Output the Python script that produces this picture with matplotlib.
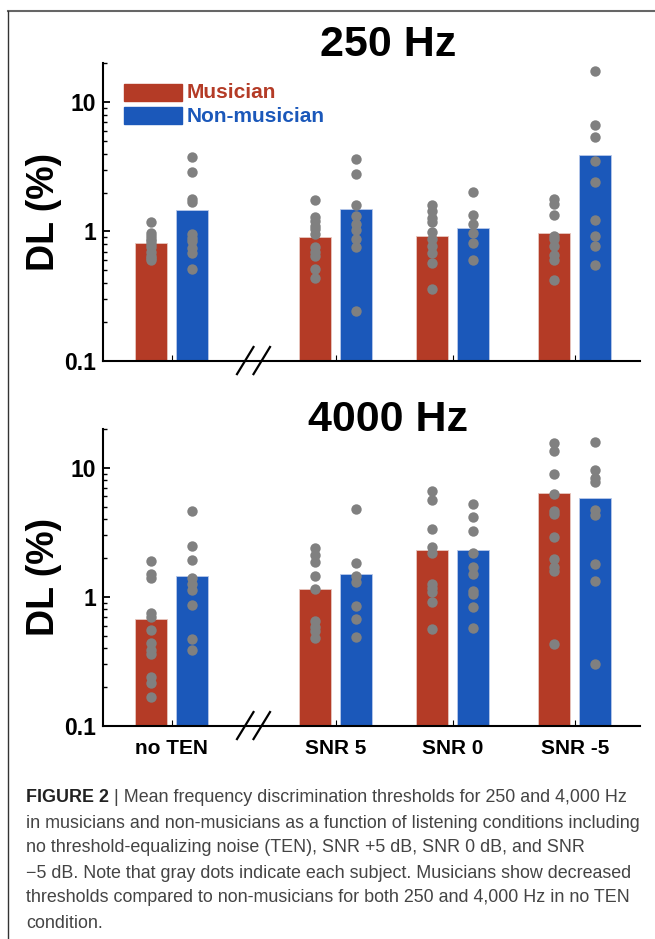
import matplotlib
matplotlib.use('Agg')
import matplotlib.pyplot as plt
import matplotlib.transforms as mtransforms
from matplotlib.patches import Rectangle
from matplotlib.lines import Line2D
from matplotlib.ticker import NullFormatter
import numpy as np

plt.rcParams['font.family'] = ['Liberation Sans', 'DejaVu Sans']

conditions = ['no TEN', 'SNR 5', 'SNR 0', 'SNR -5']
groups = ['Musician', 'Non-musician']

# mean DL (%)
mean_250_mus = [0.81, 0.91, 0.92, 0.965]
mean_250_non = [1.46, 1.48, 1.07, 3.93]
mean_4000_mus = [0.68, 1.15, 2.31, 6.39]
mean_4000_non = [1.46, 1.51, 2.33, 5.84]

# single subjects (gray dots)
subj_250_mus = [
    [1.19, 0.98, 0.93, 0.88, 0.84, 0.80, 0.76, 0.70, 0.65, 0.62, 0.60],
    [1.76, 1.30, 1.20, 1.11, 1.04, 0.95, 0.76, 0.70, 0.65, 0.51, 0.44],
    [1.60, 1.44, 1.28, 1.18, 0.99, 0.87, 0.77, 0.68, 0.57, 0.36],
    [1.79, 1.62, 1.35, 0.92, 0.87, 0.77, 0.66, 0.60, 0.42],
]
subj_250_non = [
    [3.75, 2.89, 1.77, 1.68, 0.95, 0.89, 0.84, 0.74, 0.68, 0.51],
    [3.64, 2.79, 1.59, 1.31, 1.15, 1.02, 0.87, 0.76, 0.245],
    [2.02, 1.35, 1.15, 0.98, 0.82, 0.60],
    [17.5, 6.7, 5.4, 3.5, 2.4, 1.22, 0.92, 0.77, 0.55],
]
subj_4000_mus = [
    [1.90, 1.51, 1.39, 0.75, 0.70, 0.55, 0.44, 0.39, 0.36, 0.24, 0.215, 0.167],
    [2.40, 2.11, 1.87, 1.44, 1.15, 0.65, 0.59, 0.54, 0.48],
    [6.67, 5.61, 3.35, 2.45, 2.20, 1.27, 1.17, 1.10, 0.92, 0.56],
    [15.5, 13.5, 9.0, 6.24, 4.64, 4.37, 2.92, 1.95, 1.71, 1.60, 0.43],
]
subj_4000_non = [
    [4.61, 2.48, 1.93, 1.41, 1.27, 1.13, 0.87, 0.47, 0.39],
    [4.84, 1.84, 1.44, 1.31, 0.85, 0.68, 0.49],
    [5.29, 4.17, 3.25, 2.20, 1.71, 1.51, 1.11, 1.05, 0.84, 0.57],
    [16.0, 9.69, 8.40, 7.77, 4.70, 4.30, 1.80, 1.34, 0.30],
]

caption_lines = [
    'in musicians and non-musicians as a function of listening conditions including',
    'no threshold-equalizing noise (TEN), SNR +5 dB, SNR 0 dB, and SNR',
    '\u22125 dB. Note that gray dots indicate each subject. Musicians show decreased',
    'thresholds compared to non-musicians for both 250 and 4,000 Hz in no TEN',
    'condition.',
]

RED = '#b43b26'
BLUE = '#1b58ba'
GRAY = '#808080'
W, H = 655, 939

xpos = np.array([0, 1.37, 2.35, 3.37])
off = 0.171
bw = 0.268


def draw_panel(ax, mus_mean, non_mean, mus_subj, non_subj):
    ax.set_yscale('log')
    ax.bar(xpos - off, mus_mean, width=bw, color=RED, edgecolor='#e8c8c0', linewidth=0.6, zorder=2)
    ax.bar(xpos + off, non_mean, width=bw, color=BLUE, edgecolor='#b8c8ea', linewidth=0.6, zorder=2)
    for i in range(len(xpos)):
        ax.scatter(np.full(len(mus_subj[i]), xpos[i] - off), mus_subj[i], s=56, color=GRAY, linewidths=0, zorder=3)
        ax.scatter(np.full(len(non_subj[i]), xpos[i] + off), non_subj[i], s=56, color=GRAY, linewidths=0, zorder=3)
    ax.set_ylim(0.1, 20)
    ax.set_xlim(-0.577, 3.916)
    ax.set_yticks([0.1, 1, 10])
    ax.set_yticklabels(['0.1', '1', '10'], fontsize=16.5, fontweight='bold')
    ax.yaxis.set_minor_formatter(NullFormatter())
    ax.set_xticks(xpos)
    for s in ['top', 'right']:
        ax.spines[s].set_visible(False)
    for s in ['left', 'bottom']:
        ax.spines[s].set_linewidth(1.5)
    ax.tick_params(axis='y', which='major', direction='in', length=5, width=1.3, pad=5)
    ax.tick_params(axis='y', which='minor', direction='in', length=3, width=1.0)
    ax.tick_params(axis='x', direction='in', length=4, width=0.8, pad=9)
    # axis break
    tr = mtransforms.blended_transform_factory(ax.transData, ax.transAxes)
    for x0 in [0.546, 0.684]:
        ax.add_line(Line2D([x0, x0 + 0.138], [-0.044, 0.047], transform=tr,
                           color='black', lw=1.6, clip_on=False, zorder=5))


fig = plt.figure(figsize=(W / 100, H / 100), dpi=100)
ax1 = fig.add_axes([102.7 / W, 1 - 361 / H, (640 - 102.7) / W, 298 / H])
ax2 = fig.add_axes([102.7 / W, 1 - 726 / H, (640 - 102.7) / W, 297 / H])

draw_panel(ax1, mean_250_mus, mean_250_non, subj_250_mus, subj_250_non)
draw_panel(ax2, mean_4000_mus, mean_4000_non, subj_4000_mus, subj_4000_non)
ax1.set_xticklabels([])
ax2.set_xticklabels(conditions, fontsize=15, fontweight='bold')

fig.text(388 / W, 1 - 45 / H, '250 Hz', ha='center', va='center', fontsize=31, fontweight='bold')
fig.text(388 / W, 1 - 420 / H, '4000 Hz', ha='center', va='center', fontsize=31, fontweight='bold')
for yc in [212, 577]:
    fig.text(44 / W, 1 - yc / H, 'DL (%)', rotation=90, ha='center', va='center',
             fontsize=27, fontweight='bold')

# legend
for (y0, col, lab) in [(84, RED, groups[0]), (107, BLUE, groups[1])]:
    fig.add_artist(Rectangle((124 / W, 1 - (y0 + 17) / H), 58 / W, 17 / H,
                             transform=fig.transFigure, color=col))
    fig.text(187 / W, 1 - (y0 + 9) / H, lab, color=col, ha='left', va='center',
             fontsize=15, fontweight='bold')

# frame
fig.add_artist(Line2D([8 / W, 1], [1 - 11 / H, 1 - 11 / H], transform=fig.transFigure, color='#666666', lw=1.5))
fig.add_artist(Line2D([8 / W, 8 / W], [0, 1 - 11 / H], transform=fig.transFigure, color='#333333', lw=1.0))

# caption
cap_fs = 12.9
cap_col = '#444444'
t = fig.text(26 / W, 1 - 798 / H, 'FIGURE 2', ha='left', va='center', fontsize=cap_fs,
             fontweight='bold', color='#222222')
r = fig.canvas.get_renderer()
bb = t.get_window_extent(renderer=r)
fig.text(bb.x1 / W, 1 - 798 / H, ' | Mean frequency discrimination thresholds for 250 and 4,000 Hz',
         ha='left', va='center', fontsize=cap_fs, color=cap_col)
for i, line in enumerate(caption_lines):
    fig.text(26 / W, 1 - (823 + 25 * i) / H, line, ha='left', va='center', fontsize=cap_fs, color=cap_col)

fig.savefig('out.png', dpi=100)
